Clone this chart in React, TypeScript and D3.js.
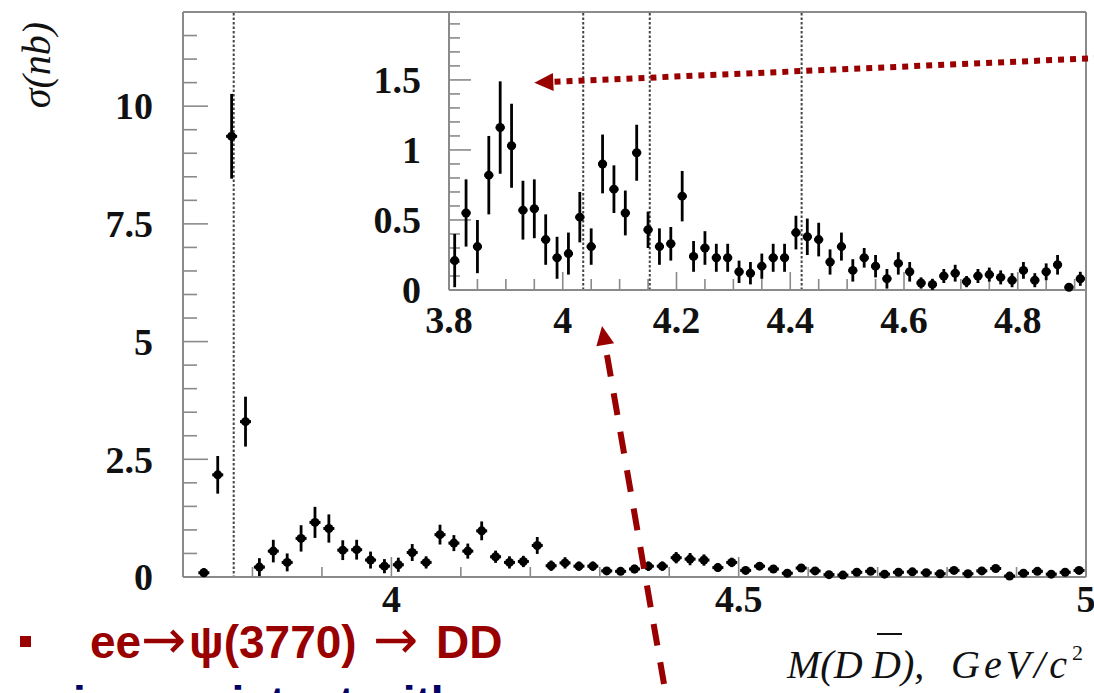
import React from "react";
import * as d3 from "d3";

// Cross-section measurements: bin centre (GeV/c^2), sigma (nb), stat. error (nb)
const MASS = [
  3.73, 3.75, 3.77, 3.79, 3.81, 3.83, 3.85, 3.87, 3.89, 3.91,
  3.93, 3.95, 3.97, 3.99, 4.01, 4.03, 4.05, 4.07, 4.09, 4.11,
  4.13, 4.15, 4.17, 4.19, 4.21, 4.23, 4.25, 4.27, 4.29, 4.31,
  4.33, 4.35, 4.37, 4.39, 4.41, 4.43, 4.45, 4.47, 4.49, 4.51,
  4.53, 4.55, 4.57, 4.59, 4.61, 4.63, 4.65, 4.67, 4.69, 4.71,
  4.73, 4.75, 4.77, 4.79, 4.81, 4.83, 4.85, 4.87, 4.89, 4.91,
  4.93, 4.95, 4.97, 4.99,
];
const SIGMA = [
  0.09, 2.17, 9.36, 3.3, 0.21, 0.55, 0.31, 0.82, 1.16, 1.03,
  0.57, 0.58, 0.36, 0.23, 0.26, 0.52, 0.31, 0.9, 0.72, 0.55,
  0.98, 0.43, 0.31, 0.33, 0.67, 0.24, 0.3, 0.23, 0.23, 0.13,
  0.12, 0.17, 0.23, 0.23, 0.41, 0.38, 0.36, 0.2, 0.31, 0.14,
  0.23, 0.17, 0.08, 0.19, 0.13, 0.05, 0.04, 0.1, 0.12, 0.06,
  0.1, 0.11, 0.09, 0.07, 0.14, 0.07, 0.13, 0.18, 0.02, 0.08,
  0.12, 0.06, 0.1, 0.14,
];
const ERROR = [
  0.1, 0.4, 0.9, 0.53, 0.19, 0.24, 0.19, 0.28, 0.33, 0.3,
  0.21, 0.21, 0.18, 0.15, 0.15, 0.18, 0.13, 0.21, 0.17, 0.16,
  0.2, 0.13, 0.13, 0.12, 0.18, 0.11, 0.12, 0.1, 0.1, 0.08,
  0.08, 0.09, 0.1, 0.1, 0.12, 0.13, 0.12, 0.09, 0.1, 0.08,
  0.07, 0.08, 0.07, 0.08, 0.07, 0.04, 0.04, 0.05, 0.06, 0.04,
  0.05, 0.05, 0.05, 0.05, 0.06, 0.05, 0.06, 0.07, 0.03, 0.05,
  0.05, 0.04, 0.05, 0.05,
];

// Charmonium resonance positions (GeV/c^2)
const PSI_MAIN = [3.773];
const PSI_INSET = [4.036, 4.153, 4.42];

// Axis tick labels
const MAIN_Y_LABELS = [0, 2.5, 5, 7.5, 10];
const MAIN_X_LABELS = [4, 4.5, 5];
const INSET_Y_LABELS = [0, 0.5, 1, 1.5];
const INSET_X_LABELS = [3.8, 4, 4.2, 4.4, 4.6, 4.8];

const W = 1094;
const H = 693;
const RED = "#990000";
const FRAME = "#8a8a8a";
const SERIF = "'Liberation Serif', 'Times New Roman', serif";
const SANS = "'Liberation Sans', Arial, sans-serif";
const ARROW_FONT = "'DejaVu Sans', sans-serif";

const points = MASS.map((m, i) => ({ m, s: SIGMA[i], e: ERROR[i] }));

function arrowHead(tail: [number, number], tip: [number, number], len: number, half: number) {
  const dx = tip[0] - tail[0];
  const dy = tip[1] - tail[1];
  const L = Math.hypot(dx, dy);
  const ux = dx / L;
  const uy = dy / L;
  const bx = tip[0] - ux * len;
  const by = tip[1] - uy * len;
  const px = -uy;
  const py = ux;
  return {
    poly: `${tip[0]},${tip[1]} ${bx + px * half},${by + py * half} ${bx - px * half},${by - py * half}`,
    base: [bx + ux * 2, by + uy * 2] as [number, number],
  };
}

function fmt(v: number) {
  return String(v);
}

export default function App() {
  // Main panel scales
  const x = d3.scaleLinear().domain([3.7, 5.0]).range([183, 1086]);
  const y = d3.scaleLinear().domain([0, 12]).range([577, 12]);
  // Inset scales
  const xi = d3.scaleLinear().domain([3.8, 4.92]).range([449, 1086]);
  const yi = d3.scaleLinear().domain([0, 1.985]).range([290, 12]);

  const mainYMinor = d3.range(0, 12.001, 0.5);
  const mainXMinor = d3.range(3.7, 5.0001, 0.1);
  const insetYMinor = d3.range(0, 1.9501, 0.1);
  const insetXMinor = d3.range(3.8, 4.9001, 0.05);

  const insetPts = points.filter((p) => p.m >= 3.8 && p.m <= 4.92);

  const dotTail: [number, number] = [1100, 58];
  const dotTip: [number, number] = [xi(3.95), yi(1.48)];
  const dotHead = arrowHead(dotTail, dotTip, 19, 9);

  const dashTail: [number, number] = [664, 684];
  const dashTip: [number, number] = [602, 326];
  const dashHead = arrowHead(dashTail, dashTip, 19, 9);

  const marker = (px: number, py: number, eTop: number, eBot: number, key: string, hw: number) => (
    <g key={key}>
      <line x1={px} x2={px} y1={eTop} y2={eBot} stroke="#000" strokeWidth={2.8} />
      <line x1={px - hw} x2={px + hw} y1={py} y2={py} stroke="#000" strokeWidth={3} />
      <circle cx={px} cy={py} r={4.5} fill="#000" />
    </g>
  );

  return (
    <svg
      width={W}
      height={H}
      viewBox={`0 0 ${W} ${H}`}
      style={{ position: "absolute", left: 0, top: 0, background: "#fff" }}
    >
      <rect width={W} height={H} fill="#fff" />

      {/* Main panel frame */}
      <g stroke={FRAME} strokeWidth={2} fill="none">
        <line x1={183} x2={1086} y1={12} y2={12} />
        <line x1={1086} x2={1086} y1={12} y2={577} />
        <line x1={183} x2={183} y1={12} y2={577} />
        <line x1={183} x2={1086} y1={577} y2={577} />
      </g>

      {/* Main ticks */}
      <g stroke={FRAME} strokeWidth={1.6}>
        {mainYMinor.map((v) => {
          const major = MAIN_Y_LABELS.some((t) => Math.abs(t - v) < 1e-6);
          return <line key={`my${v}`} x1={183} x2={183 + (major ? 25 : 14)} y1={y(v)} y2={y(v)} />;
        })}
        {mainXMinor.map((v) => {
          const major = MAIN_X_LABELS.some((t) => Math.abs(t - v) < 1e-6);
          return <line key={`mx${v.toFixed(2)}`} x1={x(v)} x2={x(v)} y1={577} y2={577 - (major ? 20 : 10)} />;
        })}
      </g>

      {/* Main tick labels */}
      <g fontFamily={SERIF} fontWeight="bold" fontSize={38} fill="#111">
        {MAIN_Y_LABELS.map((v) => (
          <text key={`myl${v}`} x={153} y={y(v)} dy="0.35em" textAnchor="end">
            {fmt(v)}
          </text>
        ))}
        {MAIN_X_LABELS.map((v) => (
          <text key={`mxl${v}`} x={x(v)} y={612} textAnchor="middle">
            {fmt(v)}
          </text>
        ))}
      </g>

      {/* psi(3770) marker line */}
      {PSI_MAIN.map((m) => (
        <line key={`pm${m}`} x1={x(m)} x2={x(m)} y1={13} y2={576} stroke="#444" strokeWidth={2} strokeDasharray="2.5 2" />
      ))}

      {/* Main data */}
      {points.map((p, i) => marker(x(p.m), y(p.s), y(p.s + p.e), Math.min(577, y(Math.max(0, p.s - p.e))), `mp${i}`, 5.5))}

      {/* Axis titles */}
      <text
        transform="translate(50,65) rotate(-90)"
        textAnchor="middle"
        fontFamily={SERIF}
        fontStyle="italic"
        fontSize={40}
        fill="#111"
      >
        σ(nb)
      </text>
      <g fontFamily={SERIF} fontStyle="italic" fontSize={40} fill="#111">
        <text x={787} y={678}>M(D</text>
        <text x={872} y={678}>D),</text>
        <line x1={877} x2={902} y1={634} y2={634} stroke="#111" strokeWidth={2} />
        <text x={951} y={678} textLength={116}>GeV/c</text>
        <text x={1072} y={660} fontSize={22} fontStyle="normal">2</text>
      </g>

      {/* Inset panel */}
      <rect x={449} y={12} width={637} height={278} fill="#fff" />
      <g stroke={FRAME} strokeWidth={2} fill="none">
        <line x1={449} x2={1086} y1={12} y2={12} />
        <line x1={1086} x2={1086} y1={12} y2={290} />
        <line x1={449} x2={449} y1={12} y2={290} />
        <line x1={449} x2={1086} y1={290} y2={290} />
      </g>
      <g stroke={FRAME} strokeWidth={1.6}>
        {insetYMinor.map((v) => {
          const major = INSET_Y_LABELS.some((t) => Math.abs(t - v) < 1e-6);
          return <line key={`iy${v.toFixed(2)}`} x1={449} x2={449 + (major ? 22 : 11)} y1={yi(v)} y2={yi(v)} />;
        })}
        {insetXMinor.map((v) => {
          const major = INSET_X_LABELS.some((t) => Math.abs(t - v) < 1e-6);
          return <line key={`ix${v.toFixed(2)}`} x1={xi(v)} x2={xi(v)} y1={290} y2={290 - (major ? 18 : 11)} />;
        })}
      </g>
      <g fontFamily={SERIF} fontWeight="bold" fontSize={38} fill="#111">
        {INSET_Y_LABELS.map((v) => (
          <text key={`iyl${v}`} x={421} y={yi(v)} dy="0.35em" textAnchor="end">
            {fmt(v)}
          </text>
        ))}
        {INSET_X_LABELS.map((v) => (
          <text key={`ixl${v}`} x={xi(v)} y={333} textAnchor="middle">
            {fmt(v)}
          </text>
        ))}
      </g>
      {PSI_INSET.map((m) => (
        <line key={`pi${m}`} x1={xi(m)} x2={xi(m)} y1={13} y2={289} stroke="#444" strokeWidth={2} strokeDasharray="2.5 2" />
      ))}
      {insetPts.map((p, i) =>
        marker(xi(p.m), yi(p.s), yi(p.s + p.e), Math.min(290, yi(Math.max(0, p.s - p.e))), `ip${i}`, 4.5)
      )}

      {/* Annotation arrows */}
      <line
        x1={dotTail[0]}
        y1={dotTail[1]}
        x2={dotHead.base[0]}
        y2={dotHead.base[1]}
        stroke={RED}
        strokeWidth={6}
        strokeDasharray="6 6"
      />
      <polygon points={dotHead.poly} fill={RED} />
      <line
        x1={dashTail[0]}
        y1={dashTail[1]}
        x2={dashHead.base[0]}
        y2={dashHead.base[1]}
        stroke={RED}
        strokeWidth={6}
        strokeDasharray="22 17"
      />
      <polygon points={dashHead.poly} fill={RED} />

      {/* Caption */}
      <rect x={20} y={636} width={11} height={11} fill={RED} />
      <text y={658} fontFamily={SANS} fontWeight="bold" fontSize={46} fill={RED}>
        <tspan x={90}>ee</tspan>
        <tspan x={141} fontFamily={ARROW_FONT} fontWeight="normal" fontSize={54}>→</tspan>
        <tspan x={189}>ψ(3770)</tspan>
        <tspan x={373} fontFamily={ARROW_FONT} fontWeight="normal" fontSize={54}>→</tspan>
        <tspan x={436}>DD</tspan>
      </text>
      <text x={73} y={719} fontFamily={SANS} fontWeight="bold" fontSize={46} fill="#000066">
        is consistent with
      </text>
    </svg>
  );
}
